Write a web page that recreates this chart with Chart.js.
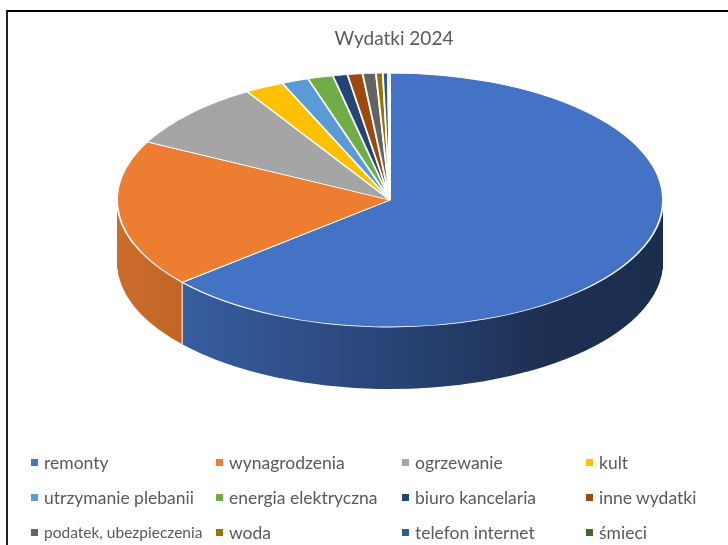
<!DOCTYPE html>
<html>
<head>
<meta charset="utf-8">
<script src="https://cdn.jsdelivr.net/npm/chart.js@4.4.1/dist/chart.umd.min.js"></script>
<style>
  html, body { margin: 0; padding: 0; background: #fff; }
  #wrap { position: relative; width: 728px; height: 545px; overflow: hidden; background: #fff; }
  #frame { position: absolute; left: 6px; top: 10px; width: 760px; height: 600px;
           border-top: 2px solid #000; border-left: 2px solid #222; box-sizing: border-box; }
  #chart { position: absolute; left: 0; top: 0; }
  #legend { position: absolute; left: 0; top: 0; width: 728px; height: 545px; pointer-events: none; }
  .item { position: absolute; display: flex; align-items: center; height: 24px; margin-top: -12px;
          font-family: Lato, "Liberation Sans", sans-serif; font-size: 17.5px; color: #595959; white-space: nowrap; }
  .item .sw { width: 7px; height: 7px; margin-right: 6px; flex: none; }
</style>
</head>
<body>
<div id="wrap">
  <div id="frame"></div>
  <canvas id="chart" width="728" height="545"></canvas>
  <div id="legend"></div>
</div>
<script>
// ---- data ----
const title = 'Wydatki 2024';
const categories = ['remonty', 'wynagrodzenia', 'ogrzewanie', 'kult',
  'utrzymanie plebanii', 'energia elektryczna', 'biuro kancelaria', 'inne wydatki',
  'podatek, ubezpieczenia', 'woda', 'telefon internet', 'śmieci'];
const values = [63.8, 18.8, 8.7, 2.3, 1.6, 1.5, 0.86, 0.89, 0.78, 0.4, 0.3, 0.12];
const colors = ['#4472C4', '#ED7D31', '#A5A5A5', '#FFC000', '#5B9BD5', '#70AD47',
  '#264478', '#9E480E', '#636363', '#997300', '#255E91', '#43682B'];

// ---- 3D look settings ----
const CX = 390, CY = 200, RX = 273, RY = 127, DEPTH = 62;

function hexToRgb(h) {
  const n = parseInt(h.slice(1), 16);
  return [(n >> 16) & 255, (n >> 8) & 255, n & 255];
}
function shade(h, f) {
  const [r, g, b] = hexToRgb(h);
  return `rgb(${Math.round(r * f)},${Math.round(g * f)},${Math.round(b * f)})`;
}

const pie3d = {
  id: 'pie3d',
  beforeDatasetsDraw(chart) {
    const ctx = chart.ctx;
    const arcs = chart.getDatasetMeta(0).data;
    if (!arcs.length) return;
    const a0 = arcs[0];
    const R = a0.outerRadius;
    const sx = RX / R, sy = RY / R;
    ctx.save();
    ctx.translate(CX, CY);
    ctx.scale(sx, sy);
    ctx.translate(-a0.x, -a0.y);
    const grads = arcs.map((arc, i) => {
      const g = ctx.createLinearGradient(a0.x - R, 0, a0.x + R, 0);
      const c = colors[i];
      g.addColorStop(0, shade(c, 0.86));
      g.addColorStop(0.15, shade(c, 0.8));
      g.addColorStop(0.5, shade(c, 0.6));
      g.addColorStop(0.78, shade(c, 0.42));
      g.addColorStop(1, shade(c, 0.40));
      return g;
    });
    for (let d = DEPTH; d >= 1; d -= 1) {
      ctx.save();
      ctx.translate(0, d / sy);
      arcs.forEach((arc, i) => {
        const orig = arc.options;
        arc.options = Object.assign({}, orig, { backgroundColor: grads[i], borderWidth: 0 });
        arc.draw(ctx);
        arc.options = orig;
      });
      ctx.restore();
    }
    // light seams on the visible side where slices meet
    ctx.save();
    ctx.setTransform(1, 0, 0, 1, 0, 0);
    ctx.strokeStyle = 'rgba(255,255,255,0.75)';
    ctx.lineWidth = 1.3;
    arcs.forEach(arc => {
      const a = arc.endAngle;
      const s = Math.sin(a);
      if (s > 0.05 && arc.circumference < Math.PI * 2) {
        const px = CX + RX * Math.cos(a);
        const py = CY + RY * s;
        ctx.beginPath();
        ctx.moveTo(px, py);
        ctx.lineTo(px, py + DEPTH);
        ctx.stroke();
      }
    });
    ctx.restore();
  },
  afterDatasetsDraw(chart) {
    chart.ctx.restore();
  }
};

new Chart(document.getElementById('chart'), {
  type: 'pie',
  data: {
    labels: categories,
    datasets: [{
      data: values,
      backgroundColor: colors,
      borderColor: '#ffffff',
      borderWidth: 1.3,
      hoverOffset: 0
    }]
  },
  options: {
    responsive: false,
    animation: false,
    events: [],
    layout: { padding: { top: 24, left: 60, right: 0, bottom: 98 } },
    plugins: {
      legend: { display: false },
      tooltip: { enabled: false },
      title: {
        display: true,
        text: title,
        color: '#595959',
        font: { family: 'Lato, "Liberation Sans", sans-serif', size: 19, weight: 'normal', lineHeight: 1.2 },
        padding: { top: 3, bottom: 0 }
      }
    }
  },
  plugins: [pie3d]
});

// ---- legend (HTML, grid of 4 columns) ----
const legend = document.getElementById('legend');
const colX = [31, 216, 402, 586];
const rowY = [462, 497, 532];
categories.forEach((name, i) => {
  const el = document.createElement('div');
  el.className = 'item';
  el.style.left = colX[i % 4] + 'px';
  el.style.top = rowY[Math.floor(i / 4)] + 'px';
  if (name === 'podatek, ubezpieczenia') el.style.fontSize = '15.5px';
  const sw = document.createElement('span');
  sw.className = 'sw';
  sw.style.background = colors[i];
  const tx = document.createElement('span');
  tx.textContent = name;
  el.appendChild(sw);
  el.appendChild(tx);
  legend.appendChild(el);
});
</script>
</body>
</html>
